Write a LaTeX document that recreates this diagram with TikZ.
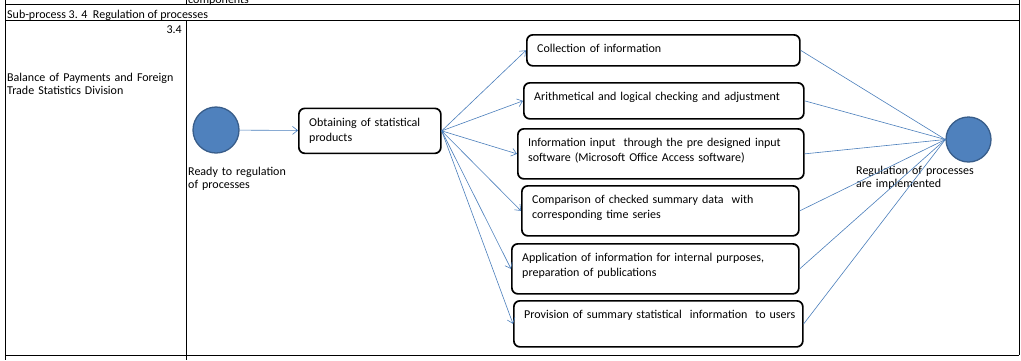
\documentclass[tikz,border=0pt]{standalone}
\usepackage{fontspec}
\setmainfont{Carlito}
\usetikzlibrary{positioning,arrows.meta}

\definecolor{evfill}{HTML}{4F81BD}
\definecolor{evline}{HTML}{385D8A}
\definecolor{flowblue}{HTML}{4A7EBB}

\tikzset{
  tabline/.style={line width=1pt},
  tabtext/.style={anchor=base west, inner sep=0pt, font=\fontsize{12}{13.5}\selectfont},
  multiline/.style={align=left, text width=#1},
  stepbox/.style={draw, line width=1.7pt, rounded corners=6pt, anchor=north west, inner sep=0pt},
  boxtext/.style={anchor=base west, inner sep=0pt, align=left, text width=285pt, font=\fontsize{12}{15}\selectfont},
  event/.style={circle, draw=evline, fill=evfill, line width=1.3pt, inner sep=0pt},
  flow/.style={draw=flowblue, line width=0.6pt, -{Straight Barb[length=5pt, width=8pt]}},
  mergeline/.style={draw=flowblue, line width=0.6pt}
}

\begin{document}
\begin{tikzpicture}[x=1pt, y=-1pt]
\useasboundingbox (0,0) rectangle (1021,360);
\clip (0,0) rectangle (1021,360);

% Table frame
\draw[tabline] (5,0) -- (5,360);
\draw[tabline] (1019,0) -- (1019,355);
\draw[tabline] (5,4.5) -- (1019,4.5);
\draw[tabline] (5,20.5) -- (1019,20.5);
\draw[tabline] (5,355) -- (1019,355);
\draw[tabline] (186,0) -- (186,4.5);
\draw[tabline] (186,20.5) -- (186,360);

% Table texts
\node[tabtext] (prevrow) at (188,3) {components};
\node[tabtext] (subproc) at (7,18) {Sub-process 3. 4\ \ Regulation of processes};
\node[tabtext, anchor=base east] (num) at (182,33) {3.4};
\node[tabtext, multiline=178pt] (division) at (7,81) {Balance of Payments and Foreign\\Trade Statistics Division};

% Events
\node[event, minimum size=46pt] (start) at (216,130) {};
\node[event, minimum size=45pt] (finish) at (968.5,139.5) {};
\node[tabtext, multiline=120pt] (start-t) at (188,175) {Ready to regulation\\of processes};
\node[tabtext, multiline=150pt] (finish-t) at (856,174) {Regulation of processes\\are implemented};

% First step
\node[stepbox, minimum width=142pt, minimum height=45pt] (obtain) at (298,107.5) {};
\node[boxtext] (obtain-t) at ([shift={(11,18.5)}]obtain.north west) {Obtaining of statistical\\products};
\draw[flow] (start) -- (obtain);

% Parallel steps
\foreach \n/\x/\y/\w/\h/\t in {
  coll/526/34/273/31/{Collection of information},
  arith/523/82/280/36/{Arithmetical and logical checking and adjustment},
  input/517/128/286/50/{Information input\ \ through the pre designed input\\software (Microsoft Office Access software)},
  compare/521/185/277/50/{Comparison of checked summary data\ \ with\\corresponding time series},
  apply/511/243/287/50/{Application of information for internal purposes,\\preparation of publications},
  provide/513/300/289/46/{Provision of summary statistical\ \ information\ \ to users}} {
  \node[stepbox, minimum width=\w pt, minimum height=\h pt] (\n) at (\x,\y) {};
  \node[boxtext] (\n-t) at ([shift={(11,18)}]\n.north west) {\t};
  \draw[flow] (obtain.east) -- (\n.west);
  \draw[mergeline] (\n.east) -- (finish.west);
}

\end{tikzpicture}
\end{document}
